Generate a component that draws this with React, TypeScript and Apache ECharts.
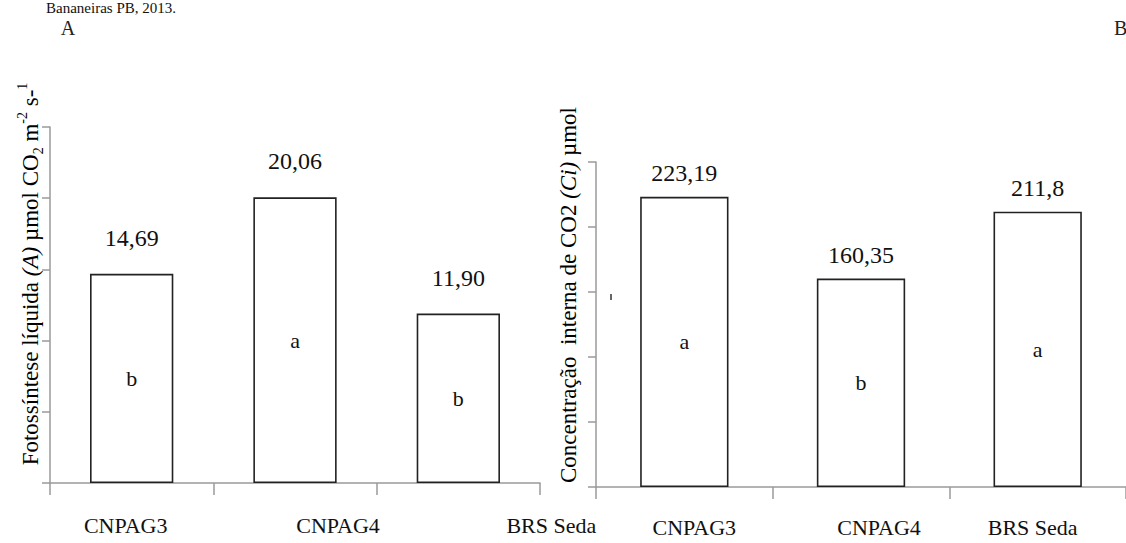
import React, { useEffect, useRef } from "react";
import * as echarts from "echarts";

// ---- data ----
const categories = ["CNPAG3", "CNPAG4", "BRS Seda"];
const photosynthesis = [14.69, 20.06, 11.9];
const photoLetters = ["b", "a", "b"];
const ciValues = [223.19, 160.35, 211.8];
const ciLetters = ["a", "b", "a"];
const photoTicks = { min: 0, max: 25, interval: 5 };
const ciTicks = { min: 0, max: 250, interval: 50 };

// layout only: horizontal shift of each category label (px)
const leftLabelShift = [-6, 43, 93];
const rightLabelShift = [10, 18, -5];

const SERIF = "Liberation Serif";
const TXT = "#111";
const AXIS = "#9a9a9a";

function shiftRich(shifts: number[]) {
  const rich: Record<string, any> = {};
  shifts.forEach((d, i) => {
    rich["c" + i] = {
      fontSize: 22,
      fontFamily: SERIF,
      fontWeight: "normal",
      color: TXT,
      padding: d >= 0 ? [0, 0, 0, 2 * d] : [0, -2 * d, 0, 0],
    };
  });
  return rich;
}

function xAxisFor(grid: number, margin: number, shifts: number[]) {
  return {
    type: "category",
    gridIndex: grid,
    data: categories,
    boundaryGap: true,
    axisLine: { lineStyle: { color: AXIS, width: 1.5 } },
    axisTick: { show: true, length: 12, lineStyle: { color: AXIS, width: 1.5 } },
    axisLabel: {
      margin,
      interval: 0,
      fontSize: 22,
      fontFamily: SERIF,
      color: TXT,
      formatter: (v: string) => `{c${categories.indexOf(v)}|${v}}`,
      rich: shiftRich(shifts),
    },
    splitLine: { show: false },
  };
}

function yAxisFor(grid: number, t: { min: number; max: number; interval: number }) {
  return {
    type: "value",
    gridIndex: grid,
    min: t.min,
    max: t.max,
    interval: t.interval,
    axisLine: { show: true, lineStyle: { color: AXIS, width: 1.5 } },
    axisTick: { show: true, length: 8, lineStyle: { color: AXIS, width: 1.5 } },
    axisLabel: { show: false },
    splitLine: { show: false },
  };
}

function barPair(
  idx: number,
  values: number[],
  letters: string[],
  fmt: (v: number) => string,
  width: string,
  distance: number
) {
  return [
    {
      type: "bar",
      xAxisIndex: idx,
      yAxisIndex: idx,
      data: values,
      barWidth: width,
      barGap: "-100%",
      itemStyle: { color: "#ffffff", borderColor: "#222", borderWidth: 1.6 },
      label: {
        show: true,
        position: "top",
        distance,
        formatter: (p: any) => fmt(p.value),
        fontSize: 24,
        fontFamily: SERIF,
        fontWeight: "normal",
        color: TXT,
      },
    },
    {
      type: "bar",
      xAxisIndex: idx,
      yAxisIndex: idx,
      data: values,
      barWidth: width,
      barGap: "-100%",
      silent: true,
      itemStyle: { color: "rgba(0,0,0,0)", borderWidth: 0 },
      label: {
        show: true,
        position: "inside",
        formatter: (p: any) => letters[p.dataIndex],
        fontSize: 22,
        fontFamily: SERIF,
        color: TXT,
      },
    },
  ];
}

const normal = { fontSize: 23, fontFamily: SERIF, color: TXT, lineHeight: 30, verticalAlign: "middle" };
const titleRich = {
  n: normal,
  i: { ...normal, fontStyle: "italic" },
  sup: { fontSize: 14, fontFamily: SERIF, color: TXT, lineHeight: 30, verticalAlign: "top" },
  sub: { fontSize: 14, fontFamily: SERIF, color: TXT, lineHeight: 30, verticalAlign: "bottom" },
};

const option: any = {
  animation: false,
  backgroundColor: "#ffffff",
  textStyle: { fontFamily: SERIF, color: TXT },
  grid: [
    { left: 50, top: 127, width: 490, height: 356 },
    { left: 596, top: 162, width: 531, height: 325 },
  ],
  xAxis: [xAxisFor(0, 31, leftLabelShift), xAxisFor(1, 29, rightLabelShift)],
  yAxis: [yAxisFor(0, photoTicks), yAxisFor(1, ciTicks)],
  series: [
    ...barPair(0, photosynthesis, photoLetters, (v) => v.toFixed(2).replace(".", ","), "51%", 24),
    ...barPair(1, ciValues, ciLetters, (v) => String(v).replace(".", ","), "50%", 12),
  ],
  graphic: [
    {
      type: "text",
      x: 176,
      y: 0,
      style: {
        text: "Bananeiras PB, 2013.",
        align: "right",
        verticalAlign: "top",
        fontSize: 15,
        fontFamily: SERIF,
        fill: TXT,
      },
    },
    {
      type: "text",
      x: 68,
      y: 28,
      style: { text: "A", align: "center", verticalAlign: "middle", fontSize: 20, fontFamily: SERIF, fill: "#222" },
    },
    {
      type: "text",
      x: 1114,
      y: 28,
      style: { text: "B", align: "left", verticalAlign: "middle", fontSize: 20, fontFamily: SERIF, fill: "#222" },
    },
    {
      type: "text",
      x: 30,
      y: 274,
      rotation: Math.PI / 2,
      style: {
        text: "{n|Fotossíntese líquida }{i|(A)}{n| µmol CO}{sub|2}{n| m}{sup|-2}{n| s-}{sup|1}",
        rich: titleRich,
        align: "center",
        verticalAlign: "middle",
      },
    },
    {
      type: "text",
      x: 568,
      y: 295,
      rotation: Math.PI / 2,
      style: {
        text: "{n|Concentração  interna de CO2 }{i|(Ci)}{n| µmol}",
        rich: titleRich,
        align: "center",
        verticalAlign: "middle",
      },
    },
    {
      type: "line",
      shape: { x1: 611, y1: 294, x2: 611, y2: 300 },
      style: { stroke: "#333", lineWidth: 1.5 },
    },
  ],
};

export default function App() {
  const ref = useRef<HTMLDivElement>(null);
  useEffect(() => {
    const chart = echarts.init(ref.current!, null, { renderer: "svg" });
    chart.setOption(option);
    return () => chart.dispose();
  }, []);
  return (
    <div
      ref={ref}
      style={{ position: "fixed", left: 0, top: 0, width: 1126, height: 543, background: "#fff" }}
    />
  );
}
